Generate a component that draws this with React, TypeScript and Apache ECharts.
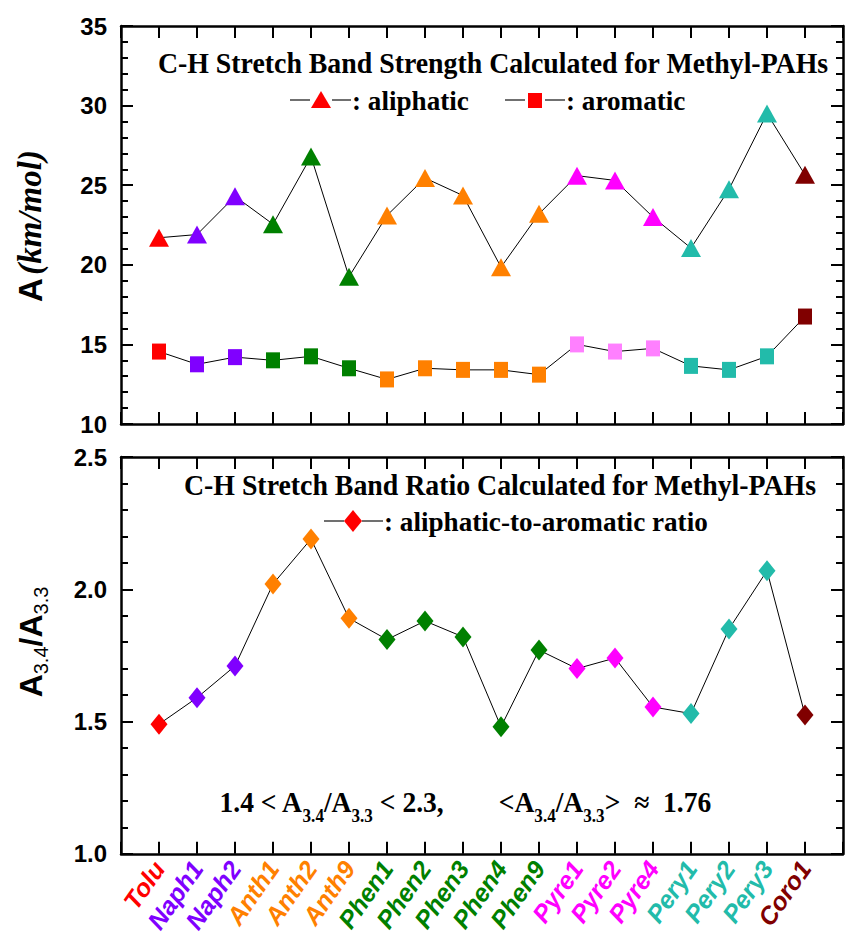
import React, { useEffect, useRef } from "react";
import * as echarts from "echarts";

const categories = ["Tolu","Naph1","Naph2","Anth1","Anth2","Anth9","Phen1","Phen2","Phen3","Phen4","Phen9","Pyre1","Pyre2","Pyre4","Pery1","Pery2","Pery3","Coro1"];
const aliphatic = [21.7, 21.9, 24.3, 22.55, 26.8, 19.25, 23.1, 25.45, 24.35, 19.85, 23.2, 25.6, 25.3, 23.0, 21.05, 24.75, 29.5, 25.65];
const aromatic = [14.55, 13.75, 14.2, 14.0, 14.25, 13.5, 12.8, 13.5, 13.4, 13.4, 13.1, 15.0, 14.55, 14.75, 13.65, 13.4, 14.25, 16.75];
const ratio = [1.49, 1.59, 1.71, 2.02, 2.19, 1.89, 1.81, 1.88, 1.82, 1.48, 1.77, 1.70, 1.74, 1.555, 1.53, 1.85, 2.07, 1.525];

const RED = "#FF0000", PUR = "#8000FF", GRN = "#008000", ORG = "#FF8000", MAG = "#FF00FF", PNK = "#FF80FF", TEA = "#22BBAA", DRD = "#800000";
const aliphaticColors = [RED, PUR, PUR, GRN, GRN, GRN, ORG, ORG, ORG, ORG, ORG, MAG, MAG, MAG, TEA, TEA, TEA, DRD];
const aromaticColors = [RED, PUR, PUR, GRN, GRN, GRN, ORG, ORG, ORG, ORG, ORG, PNK, PNK, PNK, TEA, TEA, TEA, DRD];
const ratioColors = [RED, PUR, PUR, ORG, ORG, ORG, GRN, GRN, GRN, GRN, GRN, MAG, MAG, MAG, TEA, TEA, TEA, DRD];

const topTicks = [10, 35, 5];
const botTicks = [1.0, 2.5, 0.5];

const SANS = "'Liberation Sans', Arial, sans-serif";
const SERIF = "'Liberation Serif', 'Times New Roman', serif";

export default function App() {
  const ref = useRef<HTMLDivElement>(null);
  useEffect(() => {
    if (!ref.current) return;
    const chart = echarts.init(ref.current, undefined, { renderer: "svg" });
    const axisLine = { show: true, onZero: false, lineStyle: { color: "#000", width: 2.5 } };
    const xCommon = (gridIndex: number, position: string, showLabel: boolean) => ({
      type: "value", gridIndex, position, min: 0, max: 19, interval: 1,
      axisLine, splitLine: { show: false },
      axisTick: { show: true, inside: true, length: 12, lineStyle: { color: "#000", width: 2 } },
      axisLabel: showLabel ? {
        show: true, rotate: 55, margin: 10, fontFamily: SANS, fontWeight: "bold", fontStyle: "italic", fontSize: 25,
        formatter: (v: number) => (v >= 1 && v <= categories.length ? categories[v - 1] : ""),
        color: (v: any) => ratioColors[Number(v) - 1] || "#000",
      } : { show: false },
    });
    const yCommon = (gridIndex: number, position: string, showLabel: boolean, t: number[], fmt: (v: number) => string) => ({
      type: "value", gridIndex, position, min: t[0], max: t[1], interval: t[2],
      axisLine, splitLine: { show: false },
      axisTick: { show: true, inside: true, length: 12, lineStyle: { color: "#000", width: 2 } },
      minorTick: { show: true, splitNumber: 5, length: 7, lineStyle: { color: "#000", width: 2 } },
      axisLabel: showLabel ? { show: true, margin: 14, fontFamily: SANS, fontWeight: "bold", fontSize: 24, color: "#000", formatter: fmt } : { show: false },
    });
    const mk = (vals: number[], cols: string[]) => vals.map((v, i) => ({ value: [i + 1, v], itemStyle: { color: cols[i] } }));
    const titleStyle = { fontFamily: SERIF, fontWeight: "bold", fontSize: 29, fill: "#000" };
    const legStyle = { fontFamily: SERIF, fontWeight: "bold", fontSize: 28, fill: "#000" };
    const grey = { stroke: "#707070", lineWidth: 2 };
    const option: any = {
      animation: false,
      grid: [
        { left: 121, top: 26, width: 722, height: 398 },
        { left: 121, top: 457, width: 722, height: 399 },
      ],
      xAxis: [xCommon(0, "bottom", false), xCommon(0, "top", false), xCommon(1, "bottom", true), xCommon(1, "top", false)],
      yAxis: [
        yCommon(0, "left", true, topTicks, (v) => String(v)),
        yCommon(0, "right", false, topTicks, (v) => String(v)),
        yCommon(1, "left", true, botTicks, (v) => v.toFixed(1)),
        yCommon(1, "right", false, botTicks, (v) => v.toFixed(1)),
      ],
      series: [
        { type: "line", xAxisIndex: 0, yAxisIndex: 0, data: mk(aliphatic, aliphaticColors), symbol: "triangle", symbolSize: [20, 18], lineStyle: { color: "#000", width: 1 } },
        { type: "line", xAxisIndex: 0, yAxisIndex: 0, data: mk(aromatic, aromaticColors), symbol: "rect", symbolSize: [14, 16], lineStyle: { color: "#000", width: 1 } },
        { type: "line", xAxisIndex: 2, yAxisIndex: 2, data: mk(ratio, ratioColors), symbol: "diamond", symbolSize: [17, 21], lineStyle: { color: "#000", width: 1 } },
      ],
      graphic: [
        { type: "text", x: 493, y: 63, scaleX: 0.96, style: { ...titleStyle, text: "C-H Stretch Band Strength Calculated for Methyl-PAHs", align: "center", verticalAlign: "middle", textAlign: "center", textVerticalAlign: "middle" } },
        { type: "line", shape: { x1: 290, y1: 100, x2: 310, y2: 100 }, style: grey },
        { type: "polygon", shape: { points: [[311, 108], [331, 108], [321, 91]] }, style: { fill: RED } },
        { type: "line", shape: { x1: 332, y1: 100, x2: 351, y2: 100 }, style: grey },
        { type: "text", x: 352, y: 100, scaleX: 0.97, style: { ...legStyle, text: ": aliphatic", align: "left", verticalAlign: "middle", textAlign: "left", textVerticalAlign: "middle" } },
        { type: "line", shape: { x1: 505, y1: 100, x2: 525, y2: 100 }, style: grey },
        { type: "rect", shape: { x: 528, y: 93, width: 14, height: 15 }, style: { fill: RED } },
        { type: "line", shape: { x1: 545, y1: 100, x2: 565, y2: 100 }, style: grey },
        { type: "text", x: 566, y: 100, scaleX: 0.97, style: { ...legStyle, text: ": aromatic", align: "left", verticalAlign: "middle", textAlign: "left", textVerticalAlign: "middle" } },

        { type: "text", x: 500, y: 485, scaleX: 0.96, style: { ...titleStyle, text: "C-H Stretch Band Ratio Calculated for Methyl-PAHs", align: "center", verticalAlign: "middle", textAlign: "center", textVerticalAlign: "middle" } },
        { type: "line", shape: { x1: 324, y1: 521, x2: 344, y2: 521 }, style: grey },
        { type: "polygon", shape: { points: [[353, 510], [362, 521], [353, 532], [344, 521]] }, style: { fill: RED } },
        { type: "line", shape: { x1: 362, y1: 521, x2: 383, y2: 521 }, style: grey },
        { type: "text", x: 384, y: 521, scaleX: 0.97, style: { ...legStyle, text: ": aliphatic-to-aromatic ratio", align: "left", verticalAlign: "middle", textAlign: "left", textVerticalAlign: "middle" } },

        { type: "text", x: 465, y: 802, scaleX: 0.95, style: {
          text: "{n|1.4 < A}{s|3.4}{n|/A}{s|3.3}{n| < 2.3,        <A}{s|3.4}{n|/A}{s|3.3}{n|>  ≈  1.76}",
          align: "center", verticalAlign: "middle", textAlign: "center", textVerticalAlign: "middle",
          rich: {
            n: { fontFamily: SERIF, fontWeight: "bold", fontSize: 29, lineHeight: 46, fill: "#000", color: "#000" },
            s: { fontFamily: SERIF, fontWeight: "bold", fontSize: 18, lineHeight: 14, verticalAlign: "bottom", fill: "#000", color: "#000" },
          },
        } },
        { type: "text", x: 30, y: 226, rotation: Math.PI / 2, style: {
          text: "{a|A} {b|(km/mol)}", align: "center", verticalAlign: "middle", textAlign: "center", textVerticalAlign: "middle",
          rich: {
            a: { fontFamily: SANS, fontWeight: "bold", fontSize: 33, fill: "#000", color: "#000" },
            b: { fontFamily: SERIF, fontWeight: "bold", fontStyle: "italic", fontSize: 33, fill: "#000", color: "#000" },
          },
        } },
        { type: "text", x: 31, y: 642, rotation: Math.PI / 2, style: {
          text: "{a|A}{s|3.4}{a|/A}{s|3.3}", align: "center", verticalAlign: "middle", textAlign: "center", textVerticalAlign: "middle",
          rich: {
            a: { fontFamily: SANS, fontWeight: "bold", fontSize: 32, lineHeight: 40, fill: "#000", color: "#000" },
            s: { fontFamily: SANS, fontWeight: "normal", fontSize: 20, lineHeight: 18, verticalAlign: "bottom", fill: "#000", color: "#000" },
          },
        } },
      ],
    };
    chart.setOption(option);
    return () => chart.dispose();
  }, []);
  return <div ref={ref} style={{ position: "absolute", left: 0, top: 0, width: 846, height: 936 }} />;
}
